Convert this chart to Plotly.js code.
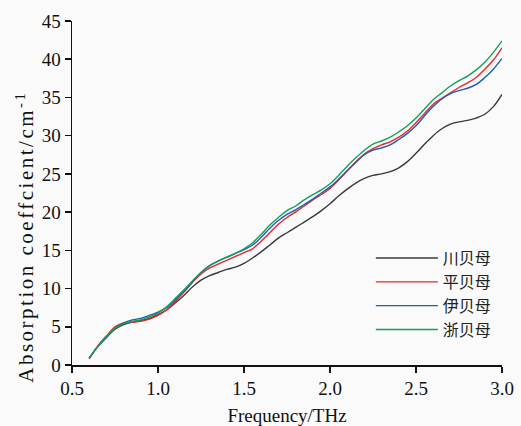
<!DOCTYPE html>
<html><head><meta charset="utf-8">
<script src="https://cdn.plot.ly/plotly-3.0.1.min.js"></script>
<style>
html,body{margin:0;padding:0;background:#fafafa;}
#chart{width:521px;height:426px;}
.annotation-text{letter-spacing:2.5px;}
.xtick text, .ytick text{font-family:"Liberation Serif","Times New Roman",serif !important;}
</style></head><body><div id="chart"></div><script>
const freq = [0.60,0.65,0.70,0.75,0.80,0.85,0.90,0.95,1.00,1.05,1.10,1.15,1.20,1.25,1.30,1.35,1.40,1.45,1.50,1.55,1.60,1.65,1.70,1.75,1.80,1.85,1.90,1.95,2.00,2.05,2.10,2.15,2.20,2.25,2.30,2.35,2.40,2.45,2.50,2.55,2.60,2.65,2.70,2.75,2.80,2.85,2.90,2.95,3.00];
const chuan = [0.9,2.4,3.6,4.7,5.3,5.6,5.8,6.1,6.6,7.2,8.1,9.1,10.2,11.1,11.7,12.1,12.5,12.8,13.3,14.0,14.8,15.7,16.6,17.3,18.0,18.7,19.4,20.2,21.1,22.1,23.0,23.8,24.4,24.8,25.0,25.3,25.8,26.6,27.7,28.9,30.0,30.9,31.5,31.8,32.0,32.3,32.8,33.8,35.4];
const ping = [0.8,2.5,3.8,5.0,5.5,5.6,5.7,6.0,6.5,7.2,8.3,9.5,10.8,11.9,12.7,13.2,13.7,14.2,14.7,15.2,16.2,17.3,18.4,19.3,20.0,20.8,21.6,22.3,23.1,24.2,25.4,26.6,27.6,28.3,28.8,29.2,29.8,30.6,31.7,32.9,34.1,34.9,35.6,36.3,36.9,37.6,38.7,39.9,41.5];
const yi = [0.9,2.4,3.6,4.8,5.5,5.9,6.1,6.5,6.9,7.5,8.5,9.7,10.9,12.1,13.0,13.6,14.1,14.6,15.1,15.7,16.7,17.9,18.9,19.7,20.3,21.0,21.7,22.5,23.3,24.3,25.4,26.5,27.5,28.1,28.4,28.8,29.5,30.3,31.3,32.6,33.8,34.8,35.5,35.9,36.2,36.7,37.6,38.7,40.1];
const zhe = [0.9,2.4,3.7,4.8,5.4,5.7,5.9,6.3,6.8,7.6,8.7,9.8,11.0,12.1,13.0,13.6,14.1,14.6,15.2,16.0,17.1,18.3,19.3,20.2,20.8,21.6,22.3,22.9,23.7,24.8,26.0,27.1,28.1,28.9,29.3,29.8,30.5,31.3,32.3,33.5,34.7,35.6,36.5,37.2,37.8,38.6,39.6,40.9,42.4];
const names = ['川贝母','平贝母','伊贝母','浙贝母'];
const colors = ['#3a3a3a','#e8262b','#1f5fad','#12a05a'];
const xTicks = [0.5,1.0,1.5,2.0,2.5,3.0];
const xTickText = ['0.5','1.0','1.5','2.0','2.5','3.0'];
const yTicks = [0,5,10,15,20,25,30,35,40,45];

const series = [chuan, ping, yi, zhe];
const traces = series.map((s,i)=>({
  x: freq, y: s, type:'scatter', mode:'lines', name: names[i],
  line:{color:colors[i], width:1.4, shape:'spline', smoothing:1}
}));

const serif = 'Liberation Serif, Times New Roman, serif';
const layout = {
  width:521, height:426,
  margin:{l:72, r:19, t:20.5, b:61, pad:0},
  paper_bgcolor:'#fafafa', plot_bgcolor:'#fafafa',
  showlegend:true,
  legend:{x:0.695, y:0.36, xanchor:'left', yanchor:'top', bgcolor:'rgba(0,0,0,0)',
    font:{family:'Noto Sans CJK SC, sans-serif', size:16, color:'#222'}, itemwidth:62, tracegroupgap:0},
  xaxis:{range:[0.5,3.0], tickvals:xTicks, ticktext:xTickText, showgrid:false, zeroline:false,
    showline:true, linecolor:'#111', linewidth:1.5, ticks:'outside', ticklen:6, tickwidth:1.5, tickcolor:'#111',
    tickfont:{family:serif, size:19, color:'#111'}, mirror:false,
    title:{text:'Frequency/THz', font:{family:serif, size:19, color:'#111'}, standoff:11}},
  yaxis:{range:[0,45], tickvals:yTicks, showgrid:false, zeroline:false,
    showline:true, linecolor:'#111', linewidth:1.5, ticks:'outside', ticklen:6, tickwidth:1.5, tickcolor:'#111',
    tickfont:{family:serif, size:19, color:'#111'}, mirror:false},
  annotations:[{text:'Absorption coeffcient/cm<sup>-1</sup>', xref:'paper', yref:'paper',
    x:-0.11, y:0.372, xanchor:'center', yanchor:'middle', textangle:-90, showarrow:false,
    font:{family:serif, size:21, color:'#111'}}]
};
Plotly.newPlot('chart', traces, layout, {displayModeBar:false, staticPlot:true});
</script></body></html>
